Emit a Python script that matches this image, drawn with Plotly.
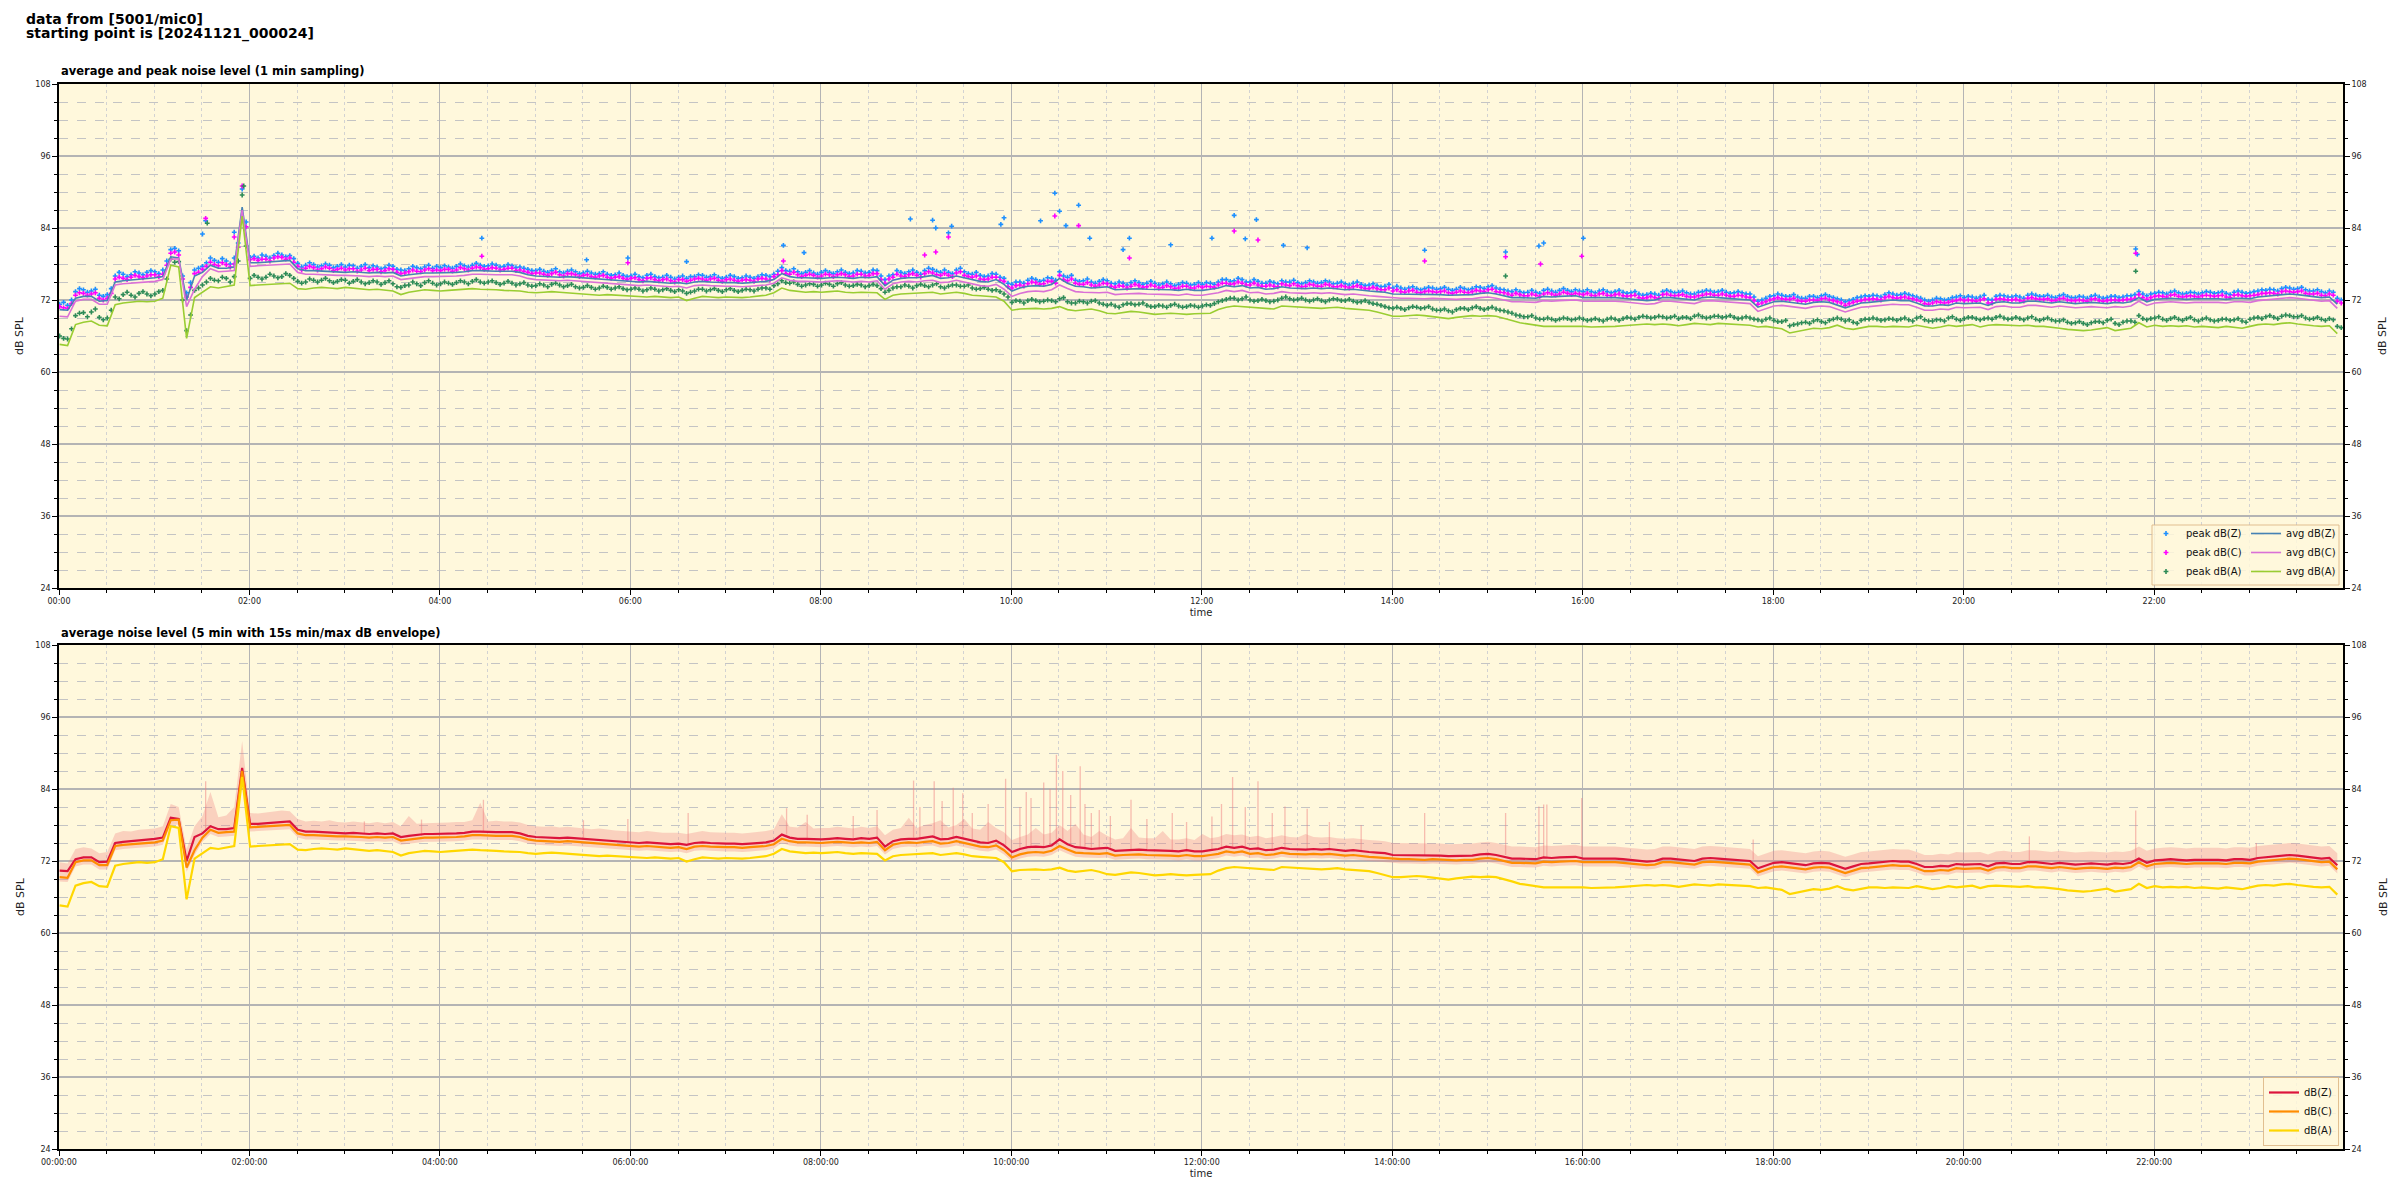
import pandas as pd
import plotly.graph_objects as go

DAY = "2024-11-21"
# 5-minute time grids (1-min samples summarised): main grid and the mid-interval grid
times = pd.date_range(f"{DAY} 00:00:24", periods=288, freq="5min")
times_mid = pd.date_range(f"{DAY} 00:02:54", periods=288, freq="5min")

# ---------------- average levels (dB SPL), one row per hour ----------------
avg_z = [
    70.4, 70.3, 72.3, 72.6, 72.6, 71.8, 71.9, 75.0, 75.2, 75.3, 75.4, 75.5,
    75.7, 75.9, 79.2, 79.0, 72.0, 76.0, 76.6, 77.8, 77.3, 77.3, 77.5, 87.5,
    78.2, 78.2, 78.3, 78.5, 78.6, 78.6, 77.2, 76.9, 76.9, 76.8, 76.8, 76.7,
    76.6, 76.7, 76.6, 76.5, 76.6, 76.5, 76.6, 76.0, 76.2, 76.4, 76.5, 76.5,
    76.5, 76.6, 76.6, 76.7, 76.9, 76.9, 76.8, 76.8, 76.8, 76.8, 76.6, 76.2,
    76.0, 75.9, 75.9, 75.8, 75.9, 75.8, 75.6, 75.5, 75.5, 75.4, 75.3, 75.2,
    75.1, 75.0, 75.1, 75.0, 74.9, 74.8, 74.9, 74.7, 75.0, 75.1, 75.0, 74.9,
    74.9, 74.9, 74.8, 74.9, 75.0, 75.1, 75.4, 76.4, 75.9, 75.7, 75.7, 75.6,
    75.6, 75.7, 75.8, 75.7, 75.6, 75.8, 75.7, 75.9, 74.4, 75.3, 75.6, 75.7,
    75.7, 75.9, 76.1, 75.6, 75.7, 76.0, 75.7, 75.3, 75.1, 75.0, 75.4, 74.6,
    73.5, 74.0, 74.3, 74.4, 74.3, 74.6, 75.6, 74.8, 74.3, 74.2, 74.0, 74.1,
    74.2, 73.7, 73.8, 73.9, 73.9, 73.8, 73.8, 73.7, 73.7, 73.6, 73.8, 73.6,
    73.6, 73.8, 74.0, 74.4, 74.2, 74.4, 74.0, 74.1, 73.8, 73.9, 74.2, 74.0,
    73.9, 73.9, 74.0, 73.9, 74.0, 73.8, 73.7, 73.8, 73.6, 73.5, 73.4, 73.3,
    73.0, 73.0, 73.0, 72.9, 72.9, 73.0, 72.9, 72.8, 72.8, 72.9, 72.9, 73.1,
    73.2, 73.0, 72.7, 72.4, 72.4, 72.3, 72.3, 72.6, 72.5, 72.6, 72.6, 72.7,
    72.4, 72.4, 72.5, 72.4, 72.4, 72.3, 72.2, 72.0, 71.9, 72.0, 72.4, 72.4,
    72.3, 72.2, 72.0, 72.4, 72.5, 72.4, 72.3, 72.2, 72.2, 72.0, 70.8, 71.3,
    71.7, 71.8, 71.6, 71.5, 71.3, 71.6, 71.7, 71.6, 71.2, 70.7, 71.1, 71.5,
    71.6, 71.7, 71.9, 72.0, 71.9, 71.9, 71.5, 71.0, 71.0, 71.2, 71.1, 71.5,
    71.4, 71.5, 71.5, 71.1, 71.6, 71.7, 71.5, 71.5, 71.8, 71.8, 71.6, 71.5,
    71.7, 71.6, 71.4, 71.5, 71.6, 71.5, 71.4, 71.6, 71.5, 71.7, 72.4, 71.7,
    72.1, 72.2, 72.3, 72.2, 72.1, 72.2, 72.2, 72.3, 72.2, 72.1, 72.3, 72.3,
    72.2, 72.5, 72.6, 72.7, 72.9, 73.0, 72.9, 72.7, 72.5, 72.4, 72.5, 71.3,
]
avg_c = [
    69.3, 69.2, 71.8, 72.1, 72.1, 71.3, 71.3, 74.5, 74.7, 74.8, 74.9, 75.0,
    75.1, 75.4, 78.8, 78.9, 70.9, 73.8, 75.9, 77.2, 76.7, 76.8, 76.9, 87.0,
    77.6, 77.7, 77.8, 77.9, 78.0, 78.0, 76.6, 76.3, 76.3, 76.2, 76.2, 76.1,
    76.1, 76.1, 76.0, 75.9, 76.0, 75.9, 76.0, 75.4, 75.6, 75.8, 75.9, 75.9,
    75.9, 76.0, 76.0, 76.1, 76.3, 76.3, 76.2, 76.2, 76.2, 76.2, 76.0, 75.6,
    75.4, 75.3, 75.3, 75.2, 75.3, 75.2, 75.0, 74.9, 74.9, 74.8, 74.7, 74.6,
    74.5, 74.4, 74.5, 74.4, 74.3, 74.2, 74.3, 74.0, 74.4, 74.5, 74.4, 74.3,
    74.3, 74.3, 74.2, 74.3, 74.4, 74.5, 74.8, 75.7, 75.3, 75.1, 75.1, 75.0,
    75.0, 75.1, 75.2, 75.1, 75.0, 75.1, 75.0, 75.2, 73.8, 74.7, 75.0, 75.1,
    75.0, 75.2, 75.3, 74.9, 75.0, 75.3, 75.0, 74.6, 74.4, 74.3, 74.6, 73.8,
    72.6, 73.1, 73.4, 73.5, 73.4, 73.7, 74.5, 73.9, 73.4, 73.3, 73.2, 73.2,
    73.3, 72.9, 73.0, 73.1, 73.1, 73.0, 73.0, 72.9, 72.9, 72.8, 73.0, 72.8,
    72.8, 73.0, 73.2, 73.6, 73.4, 73.6, 73.2, 73.3, 73.0, 73.1, 73.4, 73.2,
    73.1, 73.1, 73.2, 73.1, 73.2, 73.0, 72.9, 73.0, 72.8, 72.7, 72.6, 72.5,
    72.3, 72.3, 72.3, 72.2, 72.2, 72.3, 72.2, 72.1, 72.1, 72.2, 72.2, 72.4,
    72.5, 72.3, 72.0, 71.7, 71.7, 71.6, 71.6, 71.9, 71.8, 71.9, 71.9, 72.0,
    71.8, 71.8, 71.9, 71.8, 71.8, 71.7, 71.6, 71.4, 71.3, 71.4, 71.8, 71.8,
    71.7, 71.6, 71.4, 71.8, 71.9, 71.8, 71.7, 71.6, 71.6, 71.4, 70.1, 70.6,
    71.0, 71.1, 70.9, 70.8, 70.6, 70.9, 71.0, 70.9, 70.5, 70.0, 70.4, 70.8,
    70.9, 71.0, 71.2, 71.3, 71.2, 71.2, 70.8, 70.3, 70.3, 70.5, 70.4, 70.8,
    70.7, 70.8, 70.8, 70.4, 70.9, 71.0, 70.8, 70.8, 71.1, 71.1, 70.9, 70.8,
    71.0, 70.9, 70.7, 70.8, 70.9, 70.8, 70.7, 70.9, 70.8, 71.0, 71.8, 71.1,
    71.5, 71.6, 71.7, 71.6, 71.5, 71.6, 71.6, 71.7, 71.6, 71.5, 71.7, 71.7,
    71.6, 71.9, 72.0, 72.1, 72.3, 72.4, 72.3, 72.1, 71.9, 71.8, 71.9, 70.6,
]
avg_a = [
    64.6, 64.4, 67.9, 68.3, 68.5, 67.8, 67.7, 71.2, 71.5, 71.6, 71.8, 71.7,
    71.8, 72.3, 77.8, 77.5, 65.6, 72.4, 73.3, 74.2, 74.0, 74.2, 74.5, 86.0,
    74.4, 74.5, 74.6, 74.7, 74.7, 74.8, 73.9, 73.8, 74.0, 74.1, 74.0, 73.9,
    74.1, 74.0, 73.8, 73.7, 73.8, 73.7, 73.5, 72.9, 73.3, 73.5, 73.7, 73.6,
    73.5, 73.6, 73.7, 73.8, 73.9, 73.8, 73.8, 73.7, 73.6, 73.6, 73.5, 73.3,
    73.2, 73.3, 73.4, 73.3, 73.2, 73.0, 72.9, 72.9, 72.8, 72.9, 72.8, 72.7,
    72.6, 72.6, 72.5, 72.6, 72.5, 72.4, 72.5, 71.9, 72.3, 72.6, 72.5, 72.4,
    72.5, 72.4, 72.4, 72.5, 72.6, 72.8, 73.2, 74.0, 73.6, 73.4, 73.3, 73.4,
    73.3, 73.4, 73.5, 73.3, 73.2, 73.3, 73.2, 73.2, 72.1, 72.8, 73.0, 73.1,
    73.2, 73.2, 73.3, 73.0, 73.1, 73.3, 73.1, 72.8, 72.7, 72.6, 72.5, 71.8,
    70.3, 70.5, 70.6, 70.6, 70.5, 70.6, 70.9, 70.4, 70.2, 70.4, 70.5, 70.2,
    69.8, 69.7, 69.9, 70.1, 70.0, 69.8, 69.6, 69.7, 69.8, 69.7, 69.6, 69.7,
    69.7, 69.8, 70.4, 70.8, 71.0, 70.9, 70.7, 70.6, 70.6, 70.5, 71.0, 70.9,
    70.8, 70.7, 70.7, 70.6, 70.7, 70.8, 70.6, 70.5, 70.4, 70.3, 70.0, 69.6,
    69.3, 69.3, 69.4, 69.5, 69.4, 69.2, 69.0, 68.9, 69.1, 69.3, 69.4, 69.3,
    69.4, 69.3, 69.0, 68.6, 68.2, 68.0, 67.8, 67.6, 67.6, 67.6, 67.7, 67.6,
    67.6, 67.5, 67.5, 67.6, 67.6, 67.7, 67.8, 67.9, 68.0, 67.9, 68.0, 67.9,
    67.7, 67.9, 68.1, 68.0, 67.9, 68.1, 68.0, 67.9, 67.8, 67.8, 67.5, 67.6,
    67.4, 67.2, 66.5, 66.8, 67.1, 67.3, 67.2, 67.4, 67.8, 67.3, 67.1, 67.4,
    67.6, 67.6, 67.5, 67.6, 67.6, 67.5, 67.8, 67.5, 67.3, 67.5, 67.8, 67.6,
    67.7, 67.9, 67.5, 67.8, 67.9, 67.8, 67.7, 67.7, 67.8, 67.6, 67.6, 67.5,
    67.3, 67.1, 67.0, 66.9, 67.0, 67.2, 67.4, 66.9, 67.1, 67.3, 68.2, 67.5,
    67.8, 67.6, 67.7, 67.6, 67.7, 67.5, 67.6, 67.5, 67.4, 67.6, 67.5, 67.3,
    67.6, 67.9, 68.0, 67.9, 68.1, 68.2, 68.0, 67.8, 67.7, 67.6, 67.7, 66.4,
]

# ---------------- peak levels (dB SPL), main grid ----------------
peak_z = [
    71.3, 71.1, 73.4, 73.7, 73.5, 72.8, 72.9, 76.0, 76.3, 76.2, 76.5, 76.6,
    76.7, 77.0, 80.4, 80.2, 73.2, 77.0, 77.6, 79.0, 78.3, 78.5, 79.0, 90.5,
    79.1, 79.0, 79.3, 79.4, 79.5, 79.4, 78.1, 77.8, 77.9, 77.7, 77.8, 77.6,
    77.5, 77.7, 77.6, 77.4, 77.5, 77.4, 77.6, 77.0, 77.2, 77.4, 77.5, 77.3,
    77.4, 77.5, 77.6, 77.7, 77.8, 77.8, 77.7, 77.8, 77.6, 77.7, 77.5, 77.1,
    76.9, 76.8, 76.9, 76.7, 76.8, 76.7, 76.5, 76.5, 76.4, 76.3, 76.2, 76.1,
    76.0, 75.9, 76.1, 75.9, 75.8, 75.8, 75.8, 75.6, 75.9, 76.1, 75.9, 75.8,
    75.8, 75.9, 75.7, 75.8, 75.9, 76.1, 76.3, 77.4, 76.8, 76.7, 76.6, 76.5,
    76.6, 76.6, 76.7, 76.6, 76.5, 76.8, 76.6, 76.9, 75.4, 76.2, 76.6, 76.7,
    76.6, 76.9, 77.1, 76.6, 76.6, 77.0, 76.7, 76.3, 76.1, 76.0, 76.3, 75.6,
    74.6, 75.0, 75.3, 75.4, 75.3, 75.6, 76.7, 75.8, 75.3, 75.2, 75.0, 75.1,
    75.2, 74.7, 74.8, 74.9, 74.9, 74.8, 74.8, 74.7, 74.7, 74.6, 74.8, 74.6,
    74.6, 74.8, 75.0, 75.4, 75.2, 75.4, 75.0, 75.1, 74.8, 74.9, 75.2, 75.0,
    74.9, 74.9, 75.0, 74.9, 75.0, 74.8, 74.7, 74.8, 74.6, 74.5, 74.4, 74.3,
    74.0, 74.0, 74.0, 73.9, 73.9, 74.0, 73.9, 73.8, 73.8, 73.9, 73.9, 74.1,
    74.2, 74.0, 73.7, 73.4, 73.4, 73.3, 73.3, 73.6, 73.5, 73.6, 73.6, 73.7,
    73.4, 73.4, 73.5, 73.4, 73.4, 73.3, 73.2, 73.0, 72.9, 73.0, 73.4, 73.4,
    73.3, 73.2, 73.0, 73.4, 73.5, 73.4, 73.3, 73.2, 73.2, 73.0, 71.8, 72.3,
    72.7, 72.8, 72.6, 72.5, 72.3, 72.6, 72.7, 72.6, 72.2, 71.7, 72.1, 72.5,
    72.6, 72.7, 72.9, 73.0, 72.9, 72.9, 72.5, 72.0, 72.0, 72.2, 72.1, 72.5,
    72.4, 72.5, 72.5, 72.1, 72.6, 72.7, 72.5, 72.5, 72.8, 72.8, 72.6, 72.5,
    72.7, 72.6, 72.4, 72.5, 72.6, 72.5, 72.4, 72.6, 72.5, 72.7, 73.4, 72.7,
    73.1, 73.2, 73.3, 73.2, 73.1, 73.2, 73.2, 73.3, 73.2, 73.1, 73.3, 73.3,
    73.2, 73.5, 73.6, 73.7, 73.9, 74.0, 73.9, 73.7, 73.5, 73.4, 73.5, 72.3,
]
peak_c = [
    70.9, 70.6, 72.8, 73.1, 73.0, 72.3, 72.3, 75.5, 75.6, 75.8, 75.9, 76.0,
    76.2, 76.3, 79.8, 79.5, 72.5, 76.4, 77.1, 78.3, 77.7, 77.9, 78.0, 91.0,
    78.7, 78.6, 78.8, 79.0, 79.1, 79.0, 77.6, 77.3, 77.4, 77.2, 77.3, 77.1,
    77.0, 77.2, 77.0, 76.9, 77.1, 76.9, 77.1, 76.4, 76.7, 76.8, 77.0, 76.9,
    76.9, 77.1, 77.0, 77.2, 77.3, 77.4, 77.2, 77.3, 77.1, 77.3, 77.0, 76.6,
    76.5, 76.3, 76.4, 76.2, 76.4, 76.2, 76.1, 75.9, 76.0, 75.8, 75.8, 75.6,
    75.6, 75.4, 75.6, 75.4, 75.4, 75.2, 75.4, 75.1, 75.5, 75.5, 75.5, 75.3,
    75.4, 75.3, 75.3, 75.3, 75.5, 75.5, 75.9, 76.9, 76.3, 76.2, 76.1, 76.1,
    76.0, 76.2, 76.2, 76.2, 76.0, 76.3, 76.1, 76.4, 74.8, 75.8, 76.0, 76.2,
    76.1, 76.4, 76.5, 76.1, 76.1, 76.5, 76.1, 75.8, 75.5, 75.5, 75.8, 75.1,
    74.0, 74.5, 74.7, 74.9, 74.7, 75.1, 76.1, 75.2, 74.8, 74.6, 74.5, 74.5,
    74.7, 74.1, 74.3, 74.3, 74.4, 74.2, 74.3, 74.1, 74.2, 74.0, 74.3, 74.0,
    74.1, 74.2, 74.5, 74.8, 74.7, 74.8, 74.5, 74.5, 74.3, 74.3, 74.7, 74.4,
    74.4, 74.3, 74.5, 74.3, 74.5, 74.2, 74.2, 74.2, 74.1, 73.9, 73.9, 73.7,
    73.5, 73.4, 73.5, 73.3, 73.4, 73.4, 73.4, 73.2, 73.3, 73.3, 73.4, 73.5,
    73.7, 73.4, 73.2, 72.8, 72.9, 72.7, 72.8, 73.0, 73.0, 73.0, 73.1, 73.1,
    72.9, 72.8, 73.0, 72.8, 72.9, 72.7, 72.7, 72.4, 72.4, 72.4, 72.9, 72.8,
    72.8, 72.6, 72.5, 72.8, 73.0, 72.8, 72.8, 72.6, 72.7, 72.4, 71.3, 71.7,
    72.2, 72.2, 72.1, 71.9, 71.8, 72.0, 72.2, 72.0, 71.7, 71.1, 71.6, 71.9,
    72.1, 72.1, 72.4, 72.4, 72.4, 72.3, 72.0, 71.4, 71.5, 71.6, 71.6, 71.9,
    71.9, 71.9, 72.0, 71.5, 72.1, 72.1, 72.0, 71.9, 72.3, 72.2, 72.1, 71.9,
    72.2, 72.0, 71.9, 71.9, 72.1, 71.9, 71.9, 72.0, 72.0, 72.1, 72.9, 72.1,
    72.6, 72.6, 72.8, 72.6, 72.6, 72.6, 72.7, 72.7, 72.7, 72.5, 72.8, 72.7,
    72.7, 72.9, 73.1, 73.1, 73.4, 73.4, 73.4, 73.1, 73.0, 72.8, 73.0, 71.8,
]
peak_a = [
    66.0, 65.5, 69.4, 69.9, 70.0, 69.1, 69.0, 72.5, 72.9, 72.8, 73.1, 73.0,
    73.0, 73.6, 78.8, 78.4, 66.9, 73.6, 74.5, 75.6, 75.2, 75.6, 75.9, 89.5,
    75.6, 75.8, 75.8, 76.0, 75.9, 76.1, 75.1, 75.0, 75.3, 75.3, 75.2, 75.1,
    75.3, 75.1, 75.0, 74.9, 75.0, 74.9, 74.7, 74.1, 74.5, 74.7, 74.9, 74.8,
    74.7, 74.8, 74.9, 75.0, 75.1, 75.0, 75.0, 74.9, 74.8, 74.8, 74.7, 74.5,
    74.4, 74.5, 74.6, 74.5, 74.4, 74.2, 74.1, 74.1, 74.0, 74.1, 74.0, 73.9,
    73.8, 73.8, 73.7, 73.8, 73.7, 73.6, 73.7, 73.1, 73.5, 73.8, 73.7, 73.6,
    73.7, 73.6, 73.6, 73.7, 73.8, 74.0, 74.4, 75.2, 74.8, 74.6, 74.5, 74.6,
    74.5, 74.6, 74.7, 74.5, 74.4, 74.5, 74.4, 74.4, 73.3, 74.0, 74.2, 74.3,
    74.4, 74.4, 74.5, 74.2, 74.3, 74.5, 74.3, 74.0, 73.9, 73.8, 73.7, 73.0,
    71.6, 71.8, 71.9, 71.9, 71.8, 71.9, 72.2, 71.7, 71.5, 71.7, 71.8, 71.5,
    71.1, 71.0, 71.2, 71.4, 71.3, 71.1, 70.9, 71.0, 71.1, 71.0, 70.9, 71.0,
    71.0, 71.1, 71.7, 72.1, 72.3, 72.2, 72.0, 71.9, 71.9, 71.8, 72.3, 72.2,
    72.1, 72.0, 72.0, 71.9, 72.0, 72.1, 71.9, 71.8, 71.7, 71.6, 71.3, 70.9,
    70.6, 70.6, 70.7, 70.8, 70.7, 70.5, 70.3, 70.2, 70.4, 70.6, 70.7, 70.6,
    70.6, 70.5, 70.2, 69.8, 69.4, 69.2, 69.0, 68.8, 68.8, 68.8, 68.9, 68.8,
    68.8, 68.7, 68.7, 68.8, 68.8, 68.9, 69.0, 69.1, 69.2, 69.1, 69.2, 69.1,
    68.9, 69.1, 69.3, 69.2, 69.1, 69.3, 69.2, 69.1, 69.0, 69.0, 68.7, 68.8,
    68.6, 68.4, 67.7, 68.0, 68.3, 68.5, 68.4, 68.6, 69.0, 68.5, 68.3, 68.6,
    68.8, 68.8, 68.7, 68.8, 68.8, 68.7, 69.0, 68.7, 68.5, 68.7, 69.0, 68.8,
    68.9, 69.1, 68.7, 69.0, 69.1, 69.0, 68.9, 68.9, 69.0, 68.8, 68.8, 68.7,
    68.5, 68.3, 68.2, 68.1, 68.2, 68.4, 68.6, 68.1, 68.3, 68.5, 69.4, 68.7,
    69.0, 68.8, 68.9, 68.8, 68.9, 68.7, 68.8, 68.7, 68.6, 68.8, 68.7, 68.5,
    68.8, 69.1, 69.2, 69.1, 69.3, 69.4, 69.2, 69.0, 68.9, 68.8, 68.9, 67.6,
]
# peak levels on the mid-interval grid
peak_z_mid = [
    71.6, 72.0, 73.9, 73.3, 73.8, 72.6, 73.9, 76.6, 75.9, 76.7, 76.2, 76.9,
    76.4, 78.5, 80.6, 76.0, 74.9, 77.3, 78.2, 78.6, 78.9, 78.0, 81.5, 85.0,
    79.3, 79.5, 79.0, 79.8, 79.2, 78.9, 77.5, 78.2, 77.5, 78.0, 77.4, 77.9,
    77.8, 77.3, 77.9, 77.7, 77.2, 77.8, 77.1, 76.9, 77.6, 77.2, 77.8, 77.6,
    77.7, 77.3, 78.0, 77.5, 78.1, 77.6, 78.0, 77.5, 77.9, 77.4, 77.3, 76.9,
    77.1, 76.6, 77.2, 76.5, 77.0, 76.4, 76.8, 76.3, 76.7, 76.1, 76.5, 75.9,
    76.3, 75.7, 76.3, 75.7, 76.1, 75.5, 76.0, 75.9, 76.2, 75.8, 76.2, 75.6,
    76.1, 75.6, 76.0, 75.6, 76.2, 75.9, 76.8, 76.9, 77.2, 76.4, 76.9, 76.3,
    76.9, 76.4, 77.0, 76.4, 76.9, 76.5, 77.0, 76.0, 76.0, 76.9, 76.4, 77.0,
    76.3, 77.3, 76.8, 77.0, 76.4, 77.3, 76.4, 76.6, 75.9, 76.4, 75.8, 74.8,
    75.0, 74.8, 75.6, 75.1, 75.7, 75.3, 76.0, 76.1, 75.1, 75.5, 74.8, 75.4,
    74.8, 75.0, 74.5, 75.2, 74.6, 75.1, 74.5, 75.0, 74.4, 74.9, 74.5, 74.9,
    74.9, 74.6, 75.4, 75.1, 75.6, 75.0, 75.4, 74.8, 75.1, 74.7, 75.0, 75.3,
    74.7, 75.2, 74.8, 75.2, 74.7, 75.0, 74.5, 75.0, 74.4, 74.7, 74.2, 74.6,
    74.3, 73.8, 74.2, 73.7, 74.1, 73.8, 74.1, 73.6, 74.1, 73.7, 74.2, 73.9,
    74.4, 73.8, 73.5, 73.7, 73.2, 73.6, 73.1, 73.8, 73.3, 73.9, 73.4, 73.5,
    73.7, 73.2, 73.7, 73.2, 73.6, 73.1, 73.4, 72.8, 73.1, 72.8, 73.6, 73.2,
    73.5, 73.0, 73.3, 73.6, 73.3, 73.6, 73.1, 73.4, 73.0, 72.5, 72.0, 72.6,
    73.0, 72.6, 72.9, 72.3, 72.6, 72.4, 72.9, 72.4, 72.0, 71.9, 72.4, 72.7,
    72.8, 72.5, 73.2, 72.8, 73.1, 72.7, 72.3, 71.8, 72.3, 72.0, 72.4, 72.7,
    72.6, 72.3, 72.8, 72.0, 72.8, 72.5, 72.7, 72.3, 73.0, 72.6, 72.8, 72.4,
    72.9, 72.4, 72.6, 72.3, 72.8, 72.3, 72.6, 72.4, 72.7, 72.9, 73.0, 73.0,
    73.3, 73.0, 73.5, 73.0, 73.3, 73.0, 73.4, 73.1, 73.4, 72.9, 73.5, 73.1,
    73.4, 73.7, 73.8, 73.5, 74.1, 73.8, 74.1, 73.5, 73.7, 73.2, 73.3, 72.0,
]
peak_c_mid = [
    70.7, 71.4, 73.2, 72.8, 73.2, 72.0, 73.1, 75.8, 75.4, 76.1, 75.7, 76.2,
    75.9, 77.8, 80.0, 75.5, 74.1, 76.6, 77.6, 77.9, 78.2, 77.5, 80.8, 84.2,
    78.9, 78.8, 78.5, 79.2, 78.8, 78.3, 77.0, 77.6, 77.0, 77.5, 76.9, 77.3,
    77.2, 76.8, 77.3, 77.1, 76.7, 77.2, 76.6, 76.5, 77.0, 76.7, 77.2, 77.0,
    77.1, 76.8, 77.4, 77.0, 77.5, 77.1, 77.4, 77.0, 77.3, 76.9, 76.8, 76.4,
    76.5, 76.1, 76.6, 76.0, 76.4, 75.9, 76.2, 75.8, 76.1, 75.6, 75.9, 75.4,
    75.7, 75.2, 75.7, 75.2, 75.5, 75.0, 75.4, 75.3, 75.6, 75.3, 75.6, 75.1,
    75.5, 75.1, 75.4, 75.1, 75.6, 75.3, 76.2, 76.4, 76.6, 75.9, 76.3, 75.8,
    76.3, 75.9, 76.4, 75.9, 76.3, 76.0, 76.4, 75.4, 75.5, 76.3, 75.9, 76.4,
    75.8, 76.7, 76.2, 76.4, 75.9, 76.7, 75.9, 76.0, 75.4, 75.8, 75.3, 74.2,
    74.4, 74.3, 75.0, 74.6, 75.1, 74.8, 75.4, 75.5, 74.6, 74.9, 74.3, 74.8,
    74.3, 74.4, 74.0, 74.6, 74.1, 74.5, 74.0, 74.4, 73.9, 74.3, 74.0, 74.3,
    74.3, 74.1, 74.8, 74.6, 75.0, 74.5, 74.8, 74.3, 74.5, 74.2, 74.5, 74.7,
    74.2, 74.6, 74.3, 74.6, 74.2, 74.4, 74.0, 74.4, 73.9, 74.1, 73.7, 74.0,
    73.7, 73.3, 73.6, 73.2, 73.5, 73.3, 73.5, 73.1, 73.5, 73.2, 73.6, 73.4,
    73.8, 73.3, 73.0, 73.1, 72.7, 73.0, 72.6, 73.2, 72.8, 73.3, 72.9, 73.0,
    73.1, 72.7, 73.1, 72.7, 73.0, 72.6, 72.8, 72.3, 72.6, 72.3, 73.0, 72.7,
    72.9, 72.5, 72.7, 73.0, 72.8, 73.0, 72.6, 72.8, 72.5, 71.9, 71.5, 72.0,
    72.4, 72.1, 72.3, 71.8, 72.0, 71.9, 72.3, 71.9, 71.5, 71.4, 71.8, 72.1,
    72.2, 72.0, 72.6, 72.3, 72.5, 72.2, 71.8, 71.3, 71.7, 71.5, 71.8, 72.1,
    72.0, 71.8, 72.2, 71.5, 72.2, 72.0, 72.1, 71.8, 72.4, 72.1, 72.2, 71.9,
    72.3, 71.9, 72.0, 71.8, 72.2, 71.8, 72.0, 71.9, 72.1, 72.3, 72.4, 72.4,
    72.7, 72.5, 72.9, 72.5, 72.7, 72.5, 72.8, 72.6, 72.8, 72.4, 72.9, 72.6,
    72.8, 73.1, 73.2, 73.0, 73.5, 73.3, 73.5, 73.0, 73.1, 72.7, 72.8, 71.5,
]
peak_a_mid = [
    65.6, 67.2, 69.8, 69.2, 70.5, 68.7, 70.3, 72.2, 73.3, 72.5, 73.4, 72.7,
    73.4, 75.5, 78.3, 72.0, 69.5, 74.0, 75.0, 75.3, 75.8, 75.0, 78.5, 81.0,
    76.1, 75.5, 76.3, 75.7, 76.4, 75.6, 74.8, 75.5, 75.0, 75.6, 74.9, 75.4,
    74.8, 75.4, 74.7, 75.2, 74.6, 75.2, 74.2, 74.4, 75.0, 74.4, 75.2, 74.5,
    75.0, 74.6, 75.2, 74.7, 75.4, 74.8, 75.2, 74.6, 75.1, 74.5, 74.9, 74.3,
    74.7, 74.2, 74.8, 74.2, 74.6, 74.0, 74.4, 73.8, 74.3, 73.8, 74.2, 73.7,
    74.0, 73.5, 74.0, 73.5, 73.9, 73.4, 73.5, 73.3, 73.8, 73.5, 73.9, 73.4,
    73.9, 73.4, 73.8, 73.5, 74.0, 73.8, 74.7, 74.9, 75.0, 74.3, 74.7, 74.3,
    74.8, 74.3, 74.9, 74.3, 74.6, 74.2, 74.6, 73.9, 73.6, 74.2, 74.5, 74.0,
    74.6, 74.2, 74.7, 74.0, 74.5, 74.3, 74.5, 73.8, 74.1, 73.6, 73.4, 72.5,
    71.9, 71.5, 72.1, 71.7, 72.0, 71.7, 72.4, 71.5, 71.8, 71.5, 71.9, 71.3,
    71.3, 70.8, 71.4, 71.2, 71.5, 70.9, 71.1, 70.8, 71.3, 70.8, 71.1, 70.8,
    71.2, 71.4, 71.9, 72.3, 72.0, 72.5, 71.8, 72.1, 71.7, 72.0, 72.5, 72.0,
    72.3, 71.8, 72.2, 71.7, 72.2, 71.9, 72.1, 71.6, 71.9, 71.4, 71.1, 70.7,
    70.8, 70.4, 70.9, 70.6, 70.9, 70.3, 70.5, 70.0, 70.6, 70.4, 70.9, 70.4,
    70.8, 70.3, 70.0, 69.5, 69.2, 69.4, 68.8, 69.0, 68.6, 69.0, 68.7, 69.0,
    68.6, 68.9, 68.5, 69.0, 68.6, 69.1, 68.8, 69.3, 69.0, 69.3, 69.0, 69.3,
    69.1, 68.9, 69.5, 69.0, 69.3, 69.1, 69.4, 68.9, 69.2, 68.8, 68.5, 69.0,
    68.4, 68.6, 67.9, 68.2, 68.1, 68.7, 68.2, 68.8, 68.8, 68.7, 68.1, 68.8,
    69.0, 68.6, 68.9, 68.6, 69.0, 68.5, 69.2, 68.5, 68.7, 68.5, 69.2, 68.6,
    69.1, 68.9, 68.9, 68.8, 69.3, 68.8, 69.1, 68.7, 69.2, 68.6, 69.0, 68.5,
    68.7, 68.1, 68.4, 67.9, 68.4, 68.2, 68.8, 67.9, 68.5, 68.3, 68.9, 68.9,
    69.2, 68.6, 69.1, 68.6, 69.1, 68.5, 69.0, 68.5, 68.8, 68.6, 68.9, 68.3,
    69.0, 68.9, 69.4, 68.9, 69.5, 69.2, 69.4, 68.8, 69.1, 68.6, 68.7, 67.4,
]

# isolated 1-minute peak outliers (time HH:MM, dB)
out_z_t = ["01:32", "01:30", "01:50", "04:26", "05:32", "05:58", "06:35", "07:36", "07:49",
           "08:56", "09:10", "09:12", "09:22", "09:20", "09:55", "09:53", "10:18", "10:27",
           "10:30", "10:42", "10:34", "10:49", "11:14", "11:10", "11:40", "12:06", "12:20",
           "12:34", "12:27", "12:51", "13:06", "14:20", "15:11", "15:32", "15:35", "16:00",
           "21:48", "21:49"]
out_z_v = [85.2, 83.0, 83.3, 82.3, 78.7, 79.0, 78.4, 81.1, 79.9,
           85.5, 85.3, 84.0, 84.3, 83.2, 85.7, 84.6, 85.2, 89.8,
           86.8, 87.8, 84.4, 82.3, 82.3, 80.4, 81.2, 82.3, 86.1,
           85.4, 82.2, 81.1, 80.7, 80.3, 80.0, 81.0, 81.5, 82.3,
           80.5, 79.6]
out_c_t = ["01:32", "01:50", "04:26", "05:58", "07:36", "09:05", "09:12", "09:20", "10:27",
           "10:42", "11:14", "12:20", "12:35", "14:20", "15:11", "15:33", "15:59", "21:48"]
out_c_v = [85.6, 82.5, 79.3, 78.2, 78.5, 79.5, 80.0, 82.5, 86.0,
           84.4, 79.0, 83.5, 82.0, 78.5, 79.2, 78.0, 79.3, 79.8]
out_a_t = ["01:33", "01:56", "15:11", "21:48"]
out_a_v = [84.8, 91.0, 76.0, 76.8]

# ---------------- 15 s min/max envelope (bottom panel) ----------------
env_max = [
    71.8, 71.6, 74.0, 74.3, 74.1, 73.3, 73.5, 76.6, 77.0, 76.9, 77.2, 77.3,
    77.4, 77.8, 81.5, 81.0, 74.0, 77.8, 79.5, 83.5, 79.3, 79.6, 81.0, 92.0,
    80.0, 79.9, 80.1, 80.3, 80.4, 80.3, 79.0, 78.6, 78.7, 78.6, 78.8, 78.5,
    78.4, 78.6, 78.5, 78.3, 78.5, 78.3, 78.5, 77.8, 79.5, 78.2, 78.3, 78.3,
    78.3, 78.4, 78.5, 78.5, 78.8, 81.7, 78.6, 78.7, 78.6, 78.6, 78.4, 78.0,
    77.8, 77.7, 77.8, 77.6, 77.7, 77.6, 77.4, 77.3, 77.4, 77.2, 77.1, 77.0,
    76.9, 76.8, 77.0, 76.8, 76.7, 76.7, 76.7, 76.5, 76.8, 77.0, 76.8, 76.7,
    76.7, 76.7, 76.6, 76.7, 76.8, 77.0, 77.3, 79.8, 77.7, 77.6, 78.5, 77.4,
    77.5, 77.5, 77.7, 77.5, 77.4, 77.7, 77.5, 77.8, 76.3, 77.2, 77.5, 79.2,
    77.5, 78.0, 78.3, 78.8, 77.6, 78.0, 79.0, 77.4, 77.2, 78.5, 77.5, 76.8,
    75.5, 76.0, 76.4, 77.5, 76.4, 76.7, 78.0, 77.0, 78.2, 76.4, 76.0, 77.0,
    76.2, 75.6, 75.8, 77.5, 75.9, 75.8, 75.8, 77.0, 75.6, 75.6, 75.8, 75.5,
    76.5, 75.8, 76.0, 76.5, 76.3, 76.4, 76.0, 76.2, 75.8, 76.0, 76.3, 76.0,
    75.9, 76.5, 76.0, 75.9, 76.0, 75.8, 75.7, 75.8, 75.6, 75.5, 75.4, 75.3,
    75.0, 75.0, 75.0, 74.9, 74.9, 75.0, 74.9, 74.8, 74.8, 74.9, 74.9, 75.1,
    75.2, 75.0, 74.7, 74.4, 74.4, 74.3, 74.3, 74.6, 74.5, 74.6, 74.6, 74.7,
    74.4, 74.4, 74.5, 74.4, 74.4, 74.3, 74.2, 74.0, 73.9, 74.0, 74.4, 74.4,
    74.3, 74.2, 74.0, 74.4, 74.5, 74.4, 74.3, 74.2, 74.2, 74.0, 72.8, 73.3,
    73.7, 73.8, 73.6, 73.5, 73.3, 73.6, 73.7, 73.6, 73.2, 72.7, 73.1, 73.5,
    73.6, 73.7, 73.9, 74.0, 73.9, 73.9, 73.5, 73.0, 73.0, 73.2, 73.1, 73.5,
    73.4, 73.5, 73.5, 73.1, 73.6, 73.7, 73.5, 73.5, 73.8, 73.8, 73.6, 73.5,
    73.7, 73.6, 73.4, 73.5, 73.6, 73.5, 73.4, 73.6, 73.5, 73.7, 74.4, 73.7,
    74.1, 74.2, 74.3, 74.2, 74.1, 74.2, 74.2, 74.3, 74.2, 74.1, 74.3, 74.3,
    74.2, 74.5, 74.6, 74.7, 74.9, 75.0, 74.9, 74.7, 74.5, 74.4, 74.5, 73.3,
]
env_min = [
    68.6, 68.5, 71.1, 71.4, 71.4, 70.6, 70.6, 73.8, 74.0, 74.1, 74.2, 74.3,
    74.4, 74.7, 78.0, 78.1, 70.2, 73.0, 75.2, 76.5, 76.0, 76.1, 76.2, 85.0,
    76.9, 77.0, 77.1, 77.2, 77.3, 77.3, 75.9, 75.6, 75.6, 75.5, 75.5, 75.4,
    75.4, 75.4, 75.3, 75.2, 75.3, 75.2, 75.3, 74.7, 74.9, 75.1, 75.2, 75.2,
    75.2, 75.3, 75.3, 75.4, 75.6, 75.6, 75.5, 75.5, 75.5, 75.5, 75.3, 74.9,
    74.7, 74.6, 74.6, 74.5, 74.6, 74.5, 74.3, 74.2, 74.2, 74.1, 74.0, 73.9,
    73.8, 73.7, 73.8, 73.7, 73.6, 73.5, 73.6, 73.3, 73.7, 73.8, 73.7, 73.6,
    73.6, 73.6, 73.5, 73.6, 73.7, 73.8, 74.1, 75.0, 74.6, 74.4, 74.4, 74.3,
    74.3, 74.4, 74.5, 74.4, 74.3, 74.4, 74.3, 74.5, 73.1, 74.0, 74.3, 74.4,
    74.3, 74.5, 74.6, 74.2, 74.3, 74.6, 74.3, 73.9, 73.7, 73.6, 73.9, 73.1,
    71.9, 72.4, 72.7, 72.8, 72.7, 73.0, 73.8, 73.2, 72.7, 72.6, 72.5, 72.5,
    72.6, 72.2, 72.3, 72.4, 72.4, 72.3, 72.3, 72.2, 72.2, 72.1, 72.3, 72.1,
    72.1, 72.3, 72.5, 72.9, 72.7, 72.9, 72.5, 72.6, 72.3, 72.4, 72.7, 72.5,
    72.4, 72.4, 72.5, 72.4, 72.5, 72.3, 72.2, 72.3, 72.1, 72.0, 71.9, 71.8,
    71.6, 71.6, 71.6, 71.5, 71.5, 71.6, 71.5, 71.4, 71.4, 71.5, 71.5, 71.7,
    71.8, 71.6, 71.3, 71.0, 71.0, 70.9, 70.9, 71.2, 71.1, 71.2, 71.2, 71.3,
    71.1, 71.1, 71.2, 71.1, 71.1, 71.0, 70.9, 70.7, 70.6, 70.7, 71.1, 71.1,
    71.0, 70.9, 70.7, 71.1, 71.2, 71.1, 71.0, 70.9, 70.9, 70.7, 69.4, 69.9,
    70.3, 70.4, 70.2, 70.1, 69.9, 70.2, 70.3, 70.2, 69.8, 69.3, 69.7, 70.1,
    70.2, 70.3, 70.5, 70.6, 70.5, 70.5, 70.1, 69.6, 69.6, 69.8, 69.7, 70.1,
    70.0, 70.1, 70.1, 69.7, 70.2, 70.3, 70.1, 70.1, 70.4, 70.4, 70.2, 70.1,
    70.3, 70.2, 70.0, 70.1, 70.2, 70.1, 70.0, 70.2, 70.1, 70.3, 71.1, 70.4,
    70.8, 70.9, 71.0, 70.9, 70.8, 70.9, 70.9, 71.0, 70.9, 70.8, 71.0, 71.0,
    70.9, 71.2, 71.3, 71.4, 71.6, 71.7, 71.6, 71.4, 71.2, 71.1, 71.2, 69.9,
]
# short 15 s spikes of the envelope (time HH:MM, low dB, high dB)
spike_t = ["01:32", "03:12", "03:48", "04:27", "05:30", "05:58", "06:36", "07:38", "07:51",
           "08:20", "08:35", "08:58", "09:02", "09:11", "09:16", "09:23", "09:29", "09:35",
           "09:45", "09:56", "10:05", "10:09", "10:12", "10:20", "10:24", "10:28", "10:32",
           "10:37", "10:43", "10:46", "10:50", "10:55", "11:02", "11:15", "11:25", "11:41",
           "11:50", "12:06", "12:12", "12:19", "12:27", "12:35", "12:44", "12:52", "13:06",
           "13:20", "13:40", "14:20", "15:11", "15:32", "15:35", "15:37", "15:59", "17:47",
           "20:41", "21:48", "23:04"]
spike_lo = [77.0, 76.6, 76.2, 76.9, 75.6, 75.2, 74.7, 76.4, 75.7,
            75.6, 75.9, 75.9, 75.8, 76.1, 75.6, 75.7, 76.0, 75.6,
            75.0, 74.6, 74.0, 74.1, 74.3, 74.3, 74.4, 74.6, 75.6,
            74.8, 74.3, 74.2, 74.0, 74.1, 74.2, 73.8, 73.9, 73.7,
            73.8, 73.8, 74.0, 74.4, 74.4, 74.1, 73.9, 74.2, 73.9,
            74.0, 73.6, 72.9, 73.0, 72.3, 72.6, 72.6, 72.7, 72.2,
            71.5, 72.4, 72.5]
spike_hi = [85.3, 78.6, 78.9, 82.2, 78.8, 79.0, 80.0, 80.8, 79.7,
            79.5, 80.5, 85.4, 81.0, 85.3, 82.0, 84.2, 83.3, 80.0,
            81.5, 85.7, 81.0, 83.5, 82.5, 85.1, 84.0, 89.7, 87.0,
            83.0, 87.8, 81.5, 80.0, 80.5, 79.5, 82.2, 79.0, 80.0,
            78.5, 79.4, 81.5, 86.0, 81.0, 85.3, 80.0, 81.1, 80.7,
            78.5, 78.0, 80.0, 80.0, 81.1, 81.4, 81.4, 82.5, 75.6,
            76.1, 80.4, 75.0]

# ---------------- layout geometry ----------------
FONT = "DejaVu Sans"
BG = "#fff8dc"
X0, X1 = f"{DAY} 00:00:00", f"{DAY} 23:59:00"
OFF = 8                         # page body margin of the html page
W, H = 2400 - 2 * OFF, 1200 - 2 * OFF
L = 59 - OFF                    # plot left edge at x=59 on the page
R = W - (2343 - OFF)            # plot right edge at x=2343 on the page
PW = W - L - R


def stamp(hm):
    return f"{DAY} {hm}:24"


def px(x):      # page x -> paper x
    return (x - OFF - L) / PW


def py(y):      # page y -> paper y
    return 1 - (y - OFF) / H


fig = go.Figure()

# top panel: peaks (markers)
for name, base, mid, ot, ov, col in [
    ("peak dB(Z)", peak_z, peak_z_mid, out_z_t, out_z_v, "#1e90ff"),
    ("peak dB(C)", peak_c, peak_c_mid, out_c_t, out_c_v, "#ff00ff"),
    ("peak dB(A)", peak_a, peak_a_mid, out_a_t, out_a_v, "#2e8b57"),
]:
    fig.add_trace(go.Scatter(
        x=list(times) + list(times_mid) + [pd.Timestamp(stamp(t)) for t in ot],
        y=base + mid + ov,
        mode="markers", name=name, legend="legend",
        marker=dict(symbol="cross", size=4, color=col, line=dict(width=0)),
        xaxis="x", yaxis="y"))

# top panel: averages (lines)
for name, vals, col in [
    ("avg dB(Z)", avg_z, "#4682b4"),
    ("avg dB(C)", avg_c, "#da70d6"),
    ("avg dB(A)", avg_a, "#9acd32"),
]:
    fig.add_trace(go.Scatter(
        x=times, y=vals, mode="lines", name=name, legend="legend2",
        line=dict(color=col, width=1.6), xaxis="x", yaxis="y"))

# bottom panel: envelope
fig.add_trace(go.Scatter(x=times, y=env_min, mode="lines", line=dict(width=0),
                         showlegend=False, hoverinfo="skip", xaxis="x2", yaxis="y2"))
fig.add_trace(go.Scatter(x=times, y=env_max, mode="lines", line=dict(width=0),
                         fill="tonexty", fillcolor="rgba(240,128,128,0.32)",
                         showlegend=False, hoverinfo="skip", xaxis="x2", yaxis="y2"))
sx, sy = [], []
for t, lo, hi in zip(spike_t, spike_lo, spike_hi):
    sx += [stamp(t), stamp(t), None]
    sy += [lo, hi, None]
fig.add_trace(go.Scatter(x=sx, y=sy, mode="lines", line=dict(color="rgba(240,128,128,0.5)", width=1.3),
                         showlegend=False, hoverinfo="skip", xaxis="x2", yaxis="y2"))

for name, vals, col in [
    ("dB(Z)", avg_z, "#dc143c"),
    ("dB(C)", avg_c, "#ff8c00"),
    ("dB(A)", avg_a, "#ffd700"),
]:
    fig.add_trace(go.Scatter(x=times, y=vals, mode="lines", name=name, legend="legend3",
                             line=dict(color=col, width=2.2), xaxis="x2", yaxis="y2"))

# dummy traces so the mirrored right-hand axes are drawn
fig.add_trace(go.Scatter(x=[times[0]], y=[None], xaxis="x", yaxis="y3", showlegend=False, hoverinfo="skip"))
fig.add_trace(go.Scatter(x=[times[0]], y=[None], xaxis="x2", yaxis="y4", showlegend=False, hoverinfo="skip"))

tickfont = dict(family=FONT, size=8, color="#222")


def xax(anchor, fmt):
    return dict(
        anchor=anchor, domain=[0, 1], type="date", range=[X0, X1],
        tick0=f"{DAY} 00:00:00", dtick=7200000, tickformat=fmt,
        ticks="outside", ticklen=5, tickcolor="#000", tickfont=tickfont,
        showgrid=True, gridcolor="#b4b4b4", gridwidth=1.3,
        minor=dict(dtick=1800000, ticks="outside", ticklen=3, tickcolor="#000",
                   showgrid=True, gridcolor="#d2d2d2", griddash="dot", gridwidth=1),
        showline=True, linecolor="#000", linewidth=1.6, mirror=True,
        zeroline=False,
        title=dict(text="time", font=dict(family=FONT, size=10, color="#222"), standoff=4),
    )


def yax(domain, side="left", overlay=None):
    d = dict(
        domain=domain, range=[24, 108], tick0=0, dtick=12,
        ticks="outside", ticklen=5, tickcolor="#000", tickfont=tickfont,
        showline=True, linecolor="#000", linewidth=1.6,
        zeroline=False, side=side,
    )
    if overlay is None:
        d.update(showgrid=True, gridcolor="#b4b4b4", gridwidth=1.5, mirror=True,
                 minor=dict(dtick=3, ticks="outside", ticklen=3, tickcolor="#000",
                            showgrid=True, gridcolor="#c4c4c4", griddash="dash", gridwidth=1))
    else:
        d.update(overlaying=overlay, showgrid=False,
                 minor=dict(dtick=3, ticks="outside", ticklen=3, tickcolor="#000", showgrid=False))
    return d


top_dom = [py(588), py(84)]
bot_dom = [py(1149), py(645)]

legfont = dict(family=FONT, size=10, color="#111")
ann = [
    dict(text="<b>data from [5001/mic0]</b>", x=px(24), y=py(19)),
    dict(text="<b>starting point is [20241121_000024]</b>", x=px(24), y=py(34)),
]
ann = [dict(a, xref="paper", yref="paper", xanchor="left", yanchor="middle", showarrow=False,
            font=dict(family=FONT, size=14, color="#000")) for a in ann]
for txt, yy in [("<b>average and peak noise level (1 min sampling)</b>", 71),
                ("<b>average noise level (5 min with 15s min/max dB envelope)</b>", 633)]:
    ann.append(dict(text=txt, x=0, y=py(yy), xref="paper", yref="paper", xanchor="left",
                    yanchor="middle", showarrow=False, font=dict(family=FONT, size=11.5, color="#000")))
for xx in (20, 2383):
    for yy in (336, 897):
        ann.append(dict(text="dB SPL", x=px(xx), y=py(yy), xref="paper", yref="paper",
                        xanchor="center", yanchor="middle", textangle=-90, showarrow=False,
                        font=dict(family=FONT, size=11, color="#222")))

fig.update_layout(
    width=W, height=H,
    margin=dict(l=L, r=R, t=0, b=0, autoexpand=False),
    paper_bgcolor="white", plot_bgcolor=BG,
    font=dict(family=FONT, color="#111"),
    xaxis=xax("y", "%H:%M"),
    yaxis=yax(top_dom),
    yaxis3=yax(top_dom, side="right", overlay="y"),
    xaxis2=xax("y2", "%H:%M:%S"),
    yaxis2=yax(bot_dom),
    yaxis4=yax(bot_dom, side="right", overlay="y2"),
    legend=dict(x=px(2146), y=py(586), xanchor="left", yanchor="bottom", traceorder="normal",
                bgcolor="rgba(0,0,0,0)", font=legfont, tracegroupgap=0, itemwidth=30),
    legend2=dict(x=px(2246), y=py(586), xanchor="left", yanchor="bottom", traceorder="normal",
                 bgcolor="rgba(0,0,0,0)", font=legfont, tracegroupgap=0, itemwidth=30),
    legend3=dict(x=px(2339), y=py(1146), xanchor="right", yanchor="bottom", traceorder="normal",
                 bgcolor="rgba(255,248,220,0.85)", bordercolor="rgba(222,184,135,0.9)",
                 borderwidth=1, font=legfont, tracegroupgap=0, itemwidth=30),
    showlegend=True,
    annotations=ann,
    shapes=[
        dict(type="rect", xref="paper", yref="paper", layer="above",
             x0=px(2152), x1=px(2339), y0=py(585), y1=py(525),
             fillcolor="rgba(255,248,220,0.85)", line=dict(color="rgba(222,184,135,0.9)", width=1)),
    ],
)

fig.write_html("out.html")
